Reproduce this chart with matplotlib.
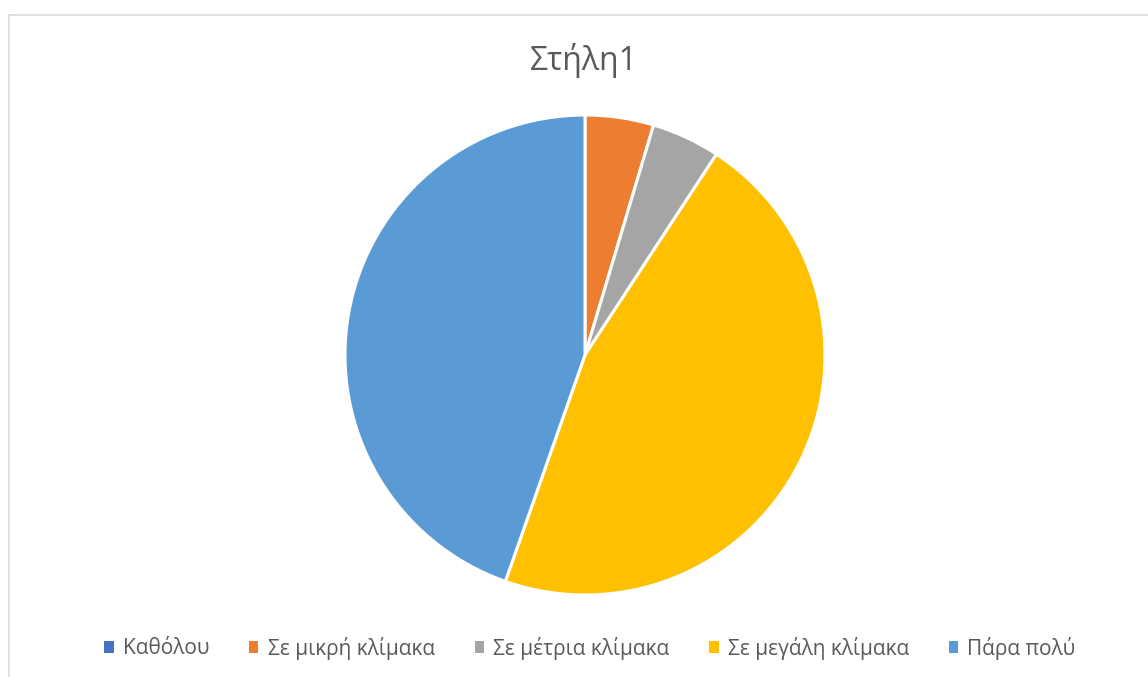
import matplotlib.pyplot as plt
from matplotlib.lines import Line2D
from matplotlib.patches import Patch

labels = ["Καθόλου", "Σε μικρή κλίμακα", "Σε μέτρια κλίμακα", "Σε μεγάλη κλίμακα", "Πάρα πολύ"]
values = [0, 3, 3, 30, 29]
colors = ["#4472C4", "#ED7D31", "#A5A5A5", "#FFC000", "#5B9BD5"]
title = "Στήλη1"

W, H = 1148, 677
fig = plt.figure(figsize=(W / 100, H / 100), dpi=100)
plt.rcParams['font.family'] = ['Open Sans', 'DejaVu Sans']

# chart border (left + top)
fig.add_artist(Line2D([8.5 / W, 8.5 / W], [0, 1 - 15 / H], color="#d9d9d9", lw=1.2))
fig.add_artist(Line2D([8.5 / W, 1], [1 - 15 / H, 1 - 15 / H], color="#d9d9d9", lw=1.2))

# pie centred at (585, 355), radius 240 px
cx, cy, r = 585, 355, 240
ax = fig.add_axes([(cx - r) / W, (H - cy - r) / H, 2 * r / W, 2 * r / H])
ax.pie(values, colors=colors, startangle=90, counterclock=False, radius=1,
       wedgeprops=dict(edgecolor="white", linewidth=2.2))
ax.set_xlim(-1.0, 1.0)
ax.set_ylim(-1.0, 1.0)
ax.set_aspect("equal")
ax.axis("off")

fig.text(584 / W, 1 - 60 / H, title, ha="center", va="center", fontsize=23, color="#595959")

handles = [Patch(facecolor=c, edgecolor="none") for c in colors]
fig.legend(handles, labels, loc="center", bbox_to_anchor=(590 / W, 1 - 648 / H), ncol=5,
           frameon=False, fontsize=15, labelcolor="#595959", handlelength=0.45, handleheight=0.45,
           handletextpad=0.45, columnspacing=1.9)

fig.savefig("out.png", dpi=100)
